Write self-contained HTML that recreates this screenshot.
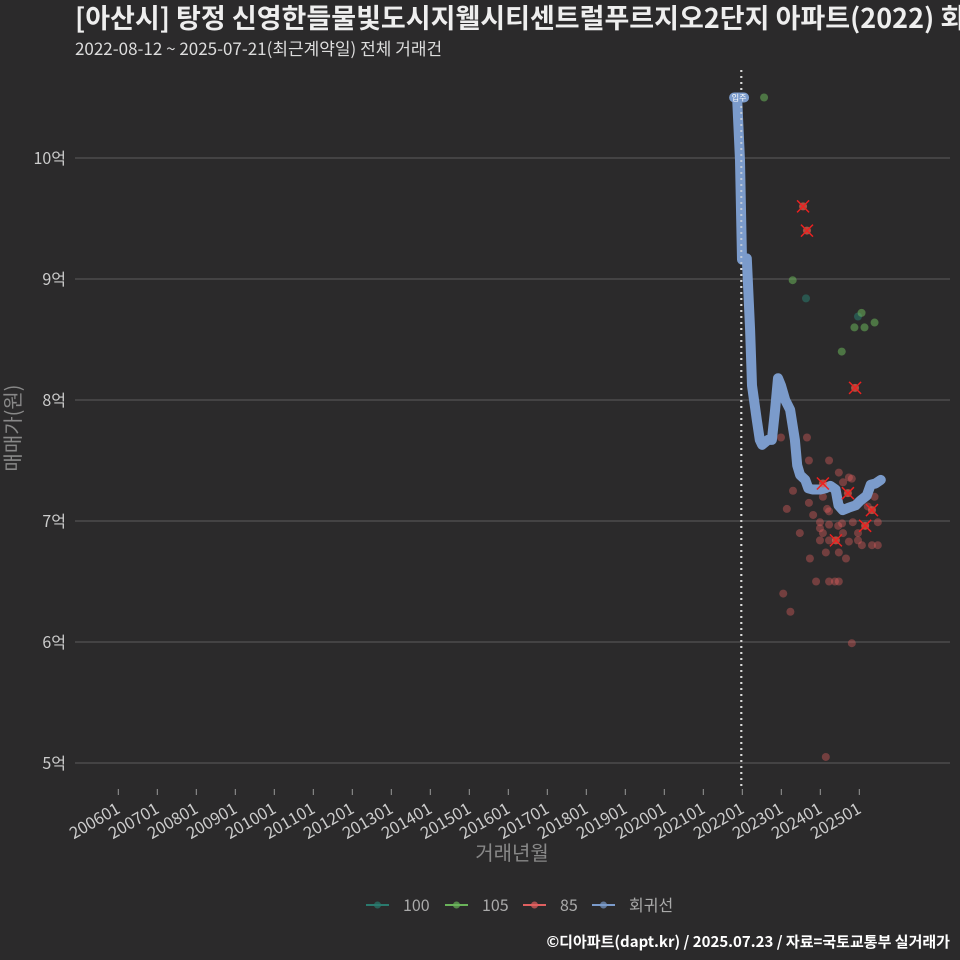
<!DOCTYPE html>
<html><head><meta charset="utf-8">
<style>
html,body{margin:0;padding:0;background:#2b2a2b;}
body{width:960px;height:960px;overflow:hidden;position:relative;font-family:"Noto Sans CJK KR",sans-serif;}
svg{position:absolute;left:0;top:0;}
</style></head>
<body>
<svg id="chart" width="960" height="960">
<rect width="960" height="960" fill="#2b2a2b"/>
<text x="75" y="28" fill="#eeeeee" font-size="27" font-weight="bold" font-family="Noto Sans CJK KR, sans-serif">[아산시] 탕정 신영한들물빛도시지웰시티센트럴푸르지오2단지 아파트(2022) 회귀선</text>
<text x="75" y="55" fill="#dddddd" font-size="17" font-family="Noto Sans CJK KR, sans-serif">2022-08-12 ~ 2025-07-21(최근계약일) 전체 거래건</text>
<g id="grid"></g>
<g id="xaxis"></g>
<g id="yaxis"></g>
<g id="marks"></g>
<text x="20" y="428" fill="#888888" font-size="20" text-anchor="middle" transform="rotate(-90 20 428)" font-family="Noto Sans CJK KR, sans-serif">매매가(원)</text>
<text x="512" y="860" fill="#888888" font-size="20" text-anchor="middle" font-family="Noto Sans CJK KR, sans-serif">거래년월</text>
<g id="legend"></g>
<text x="950" y="947" fill="#ffffff" font-size="15" font-weight="bold" text-anchor="end" font-family="Noto Sans CJK KR, sans-serif">©디아파트(dapt.kr) / 2025.07.23 / 자료=국토교통부 실거래가</text>
</svg>
<script>
// months relative to 2022-01, price in 억
const yTicks = [5,6,7,8,9,10];
const xTickYears = [2006,2007,2008,2009,2010,2011,2012,2013,2014,2015,2016,2017,2018,2019,2020,2021,2022,2023,2024,2025];
const s100M = [19.6,35.6];
const s100P = [8.84,8.69];
const s105M = [6.7,15.5,36.7,34.5,37.6,40.7,30.6];
const s105P = [10.5,8.99,8.72,8.60,8.60,8.64,8.40];
const s85M = [11.9,19.9,20.5,26.7,29.7,32.8,33.7,31.0,15.6,24.8,13.7,20.5,26.1,26.7,21.8,34.0,23.9,26.7,29.5,30.7,17.7,23.9,24.8,31.0,23.9,26.7,32.8,35.6,35.6,36.8,25.7,29.7,20.8,31.9,39.9,41.7,40.7,41.7,38.6,22.7,26.7,28.5,29.7,12.6,14.8,25.7,33.7];
const s85P = [7.69,7.69,7.50,7.50,7.40,7.36,7.35,7.32,7.25,7.20,7.10,7.15,7.10,7.08,7.05,6.99,6.99,6.97,6.96,6.98,6.90,6.94,6.90,6.90,6.84,6.84,6.83,6.90,6.84,6.80,6.74,6.74,6.69,6.69,6.80,6.80,7.20,6.99,7.12,6.50,6.50,6.50,6.50,6.40,6.25,5.05,5.99];
const crossM = [18.7,19.9,34.7,32.5,39.9,37.8,28.8,24.8];
const crossP = [9.60,9.40,8.10,7.23,7.09,6.96,6.84,7.31];
const regM = [-1.6,-0.7,-0.1,1.4,2.4,3.0,4.5,5.4,6.1,7.9,9.1,10.1,11.0,11.9,13.2,14.7,16.2,16.9,17.8,19.4,20.3,21.6,24.0,25.6,27.1,28.7,29.6,30.9,32.7,34.9,36.4,38.3,39.5,41.0,42.6];
const regP = [10.50,9.98,9.16,9.17,8.58,8.12,7.83,7.67,7.63,7.67,7.67,7.92,8.18,8.12,8.00,7.92,7.67,7.46,7.38,7.34,7.27,7.26,7.26,7.27,7.29,7.26,7.13,7.09,7.11,7.13,7.17,7.21,7.30,7.31,7.34];

const NS='http://www.w3.org/2000/svg';
function X(m){return 742.3 + m*3.25;}
function XY(y){return X((y-2022)*12);}
function Y(p){return 158 + (10-p)*121;}
function mk(t,a,parent){const e=document.createElementNS(NS,t);for(const k in a)e.setAttribute(k,a[k]);parent.appendChild(e);return e;}
const grid=document.getElementById('grid'), xa=document.getElementById('xaxis'), ya=document.getElementById('yaxis'), marks=document.getElementById('marks'), lg=document.getElementById('legend');
const FF='Noto Sans CJK KR, sans-serif';
yTicks.forEach(v=>{
  const l=mk('line',{x1:75,x2:950,y1:Y(v),y2:Y(v),stroke:'#5c5c5c','stroke-width':1},grid);
  
  
  const t=mk('text',{x:66,y:Y(v)+6,fill:'#cccccc','font-size':16,'text-anchor':'end','font-family':FF},ya);
  t.textContent=v+'억';
  
  
});
xTickYears.forEach(yr=>{
  const x=XY(yr);
  const l=mk('line',{x1:x,x2:x,y1:789,y2:795,stroke:'#999999','stroke-width':1},xa);
  
  
  const t=mk('text',{x:x+3,y:812,fill:'#cccccc','font-size':16.5,'text-anchor':'end','font-family':FF,transform:'rotate(-30 '+(x+3)+' 812)'},xa);
  t.textContent=yr+'01';
  
  
});
const vl=mk('line',{x1:X(0)-1,x2:X(0)-1,y1:70,y2:790,stroke:'#cccccc','stroke-width':2,'stroke-dasharray':'2,4'},marks);


function dots(M,P,fill,op,name){
  M.forEach((m,i)=>{
    const c=mk('circle',{cx:X(m),cy:Y(P[i]),r:4,fill:fill,'fill-opacity':op},marks);
    
    
  });
}
dots(s100M,s100P,'#2a7a6e',0.55,'point-100');
dots(s105M,s105P,'#6ab35a',0.55,'point-105');
dots(s85M,s85P,'#e06060',0.4,'point-85');
let d='';regM.forEach((m,i)=>{d+=(i?'L':'M')+X(m).toFixed(1)+' '+Y(regP[i]).toFixed(1);});
const rl=mk('path',{d:d,fill:'none',stroke:'#7b9bcb','stroke-width':10,'stroke-linejoin':'round','stroke-linecap':'round'},marks);


const vl2=mk('line',{x1:X(0)-1,x2:X(0)-1,y1:70,y2:790,stroke:'#dddddd','stroke-width':2,'stroke-dasharray':'2,4','stroke-opacity':0.7},marks);


crossM.forEach((m,i)=>{
  const x=X(m),y=Y(crossP[i]);
  const c=mk('circle',{cx:x,cy:y,r:4,fill:'#e0604a','fill-opacity':0.7},marks);
  
  
  const p=mk('path',{d:`M${x-6} ${y-6}L${x+6} ${y+6}M${x+6} ${y-6}L${x-6} ${y+6}`,stroke:'#ee2020','stroke-width':1.5},marks);
  
  
});
const lb=mk('rect',{x:X(regM[0])-8,y:Y(regP[0])-5,width:20,height:10,rx:5,fill:'#7b9bcb'},marks);


const lt=mk('text',{x:X(regM[0])+2,y:Y(regP[0])+3,fill:'#ffffff','font-size':8,'text-anchor':'middle','font-family':FF},marks);
lt.textContent='입주';


const legNames=['100','105','85','회귀선'];
const legCols=['#2a7a6e','#6ab35a','#e06060','#7b9bcb'];
const legX=[366,445,523,592];
legNames.forEach((n,i)=>{
  const g=mk('g',{},lg);
  
  
  mk('line',{x1:legX[i],x2:legX[i]+23,y1:905,y2:905,stroke:legCols[i],'stroke-width':2},g);
  mk('circle',{cx:legX[i]+11.5,cy:905,r:3.5,fill:legCols[i],'fill-opacity':0.7},g);
  const t=mk('text',{x:legX[i]+37,y:911,fill:'#aaaaaa','font-size':16,'font-family':FF},g);
  t.textContent=n;
});
</script>
</body></html>
